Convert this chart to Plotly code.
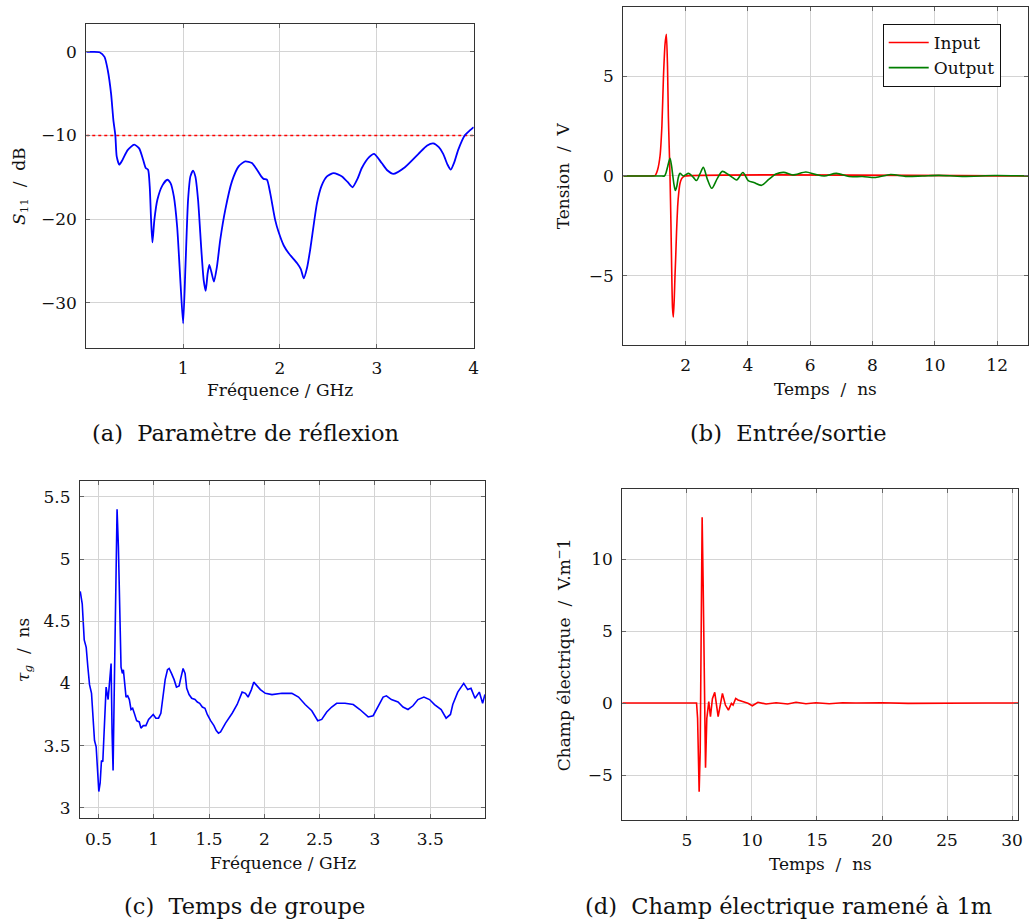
import plotly.graph_objects as go

# ---------------- (a) Paramètre de réflexion ----------------
freq_a = [0.0, 0.07, 0.137, 0.188, 0.222, 0.256, 0.28, 0.30, 0.314, 0.341,
          0.375, 0.427, 0.495, 0.546, 0.587, 0.614, 0.638, 0.655, 0.669, 0.683,
          0.703, 0.734, 0.785, 0.836, 0.87, 0.904, 0.938, 0.973, 1.0, 1.024,
          1.051, 1.075, 1.102, 1.126, 1.154, 1.188, 1.212, 1.233, 1.253, 1.27,
          1.291, 1.318, 1.349, 1.383, 1.435, 1.504, 1.573, 1.641, 1.71, 1.762,
          1.806, 1.83, 1.865, 1.899, 1.95, 1.984, 2.04, 2.09, 2.177, 2.215,
          2.245, 2.28, 2.314, 2.382, 2.43, 2.485, 2.554, 2.64, 2.70, 2.749,
          2.8, 2.845, 2.92, 2.972, 3.05, 3.11, 3.17, 3.29, 3.43, 3.52,
          3.582, 3.64, 3.685, 3.73, 3.763, 3.80, 3.839, 3.907, 3.96, 4.0]
s11_db = [0, 0, -0.05, -0.6, -2.2, -5.0, -8.2, -10, -12.5, -13.5,
          -12.9, -11.75, -11.1, -11.55, -12.9, -13.9, -14.1, -16.1, -20.1, -22.8,
          -20.1, -17.7, -16.0, -15.3, -15.7, -17.3, -20.9, -27.7, -32.5, -25.7,
          -17.7, -14.9, -14.2, -14.9, -17.7, -23.7, -27.3, -28.6, -26.5, -25.5,
          -26.3, -27.5, -25.7, -22.5, -18.9, -15.5, -13.7, -13.1, -13.3, -14.1,
          -14.9, -15.2, -15.3, -16.9, -20.1, -21.5, -23.2, -24.1, -25.3, -26.0,
          -27.1, -25.8, -23.5, -18.1, -16.0, -14.9, -14.5, -14.9, -15.6, -16.2,
          -15.2, -13.9, -12.6, -12.2, -13.3, -14.2, -14.6, -13.8, -12.2, -11.2,
          -10.95, -11.4, -12.2, -13.5, -14.1, -13.2, -11.75, -10.0, -9.4, -9.0]
thr_freq = [0.0, 4.0]
thr_db = [-10, -10]

# ---------------- (b) Entrée/sortie ----------------
t_in = [0, 0.9, 1.02, 1.1, 1.18, 1.24, 1.29, 1.34, 1.383, 1.42,
        1.447, 1.475, 1.5, 1.53, 1.553, 1.58, 1.606, 1.635, 1.66, 1.68,
        1.71, 1.745, 1.78, 1.82, 1.87, 1.926, 2.0, 13.0]
v_in = [0, 0, 0.02, 0.3, 1.0, 2.5, 4.97, 6.6, 7.1, 5.5,
        3.0, 1.4, 0, -2.4, -4.6, -6.6, -7.07, -6.2, -5.0, -4.2,
        -2.8, -1.54, -0.85, -0.38, -0.15, -0.05, 0, 0]
t_out = [0, 1.0, 1.2, 1.32, 1.37, 1.43, 1.5, 1.55, 1.59, 1.63,
         1.67, 1.72, 1.76, 1.82, 1.93, 2.1, 2.25, 2.35, 2.46, 2.57,
         2.70, 2.84, 3.02, 3.18, 3.37, 3.5, 3.64, 3.84, 4.01, 4.19,
         4.44, 4.67, 4.9, 5.15, 5.44, 5.86, 6.16, 6.45, 6.84, 7.25,
         7.68, 8.1, 8.58, 9.06, 9.6, 10.13, 10.88, 11.94, 13.0]
v_out = [0, 0, 0.0, 0.0, 0.15, 0.5, 0.89, 0.5, 0.0, -0.45,
         -0.73, -0.5, -0.12, 0.13, 0.0, 0.13, -0.07, -0.23, 0.1, 0.43,
         -0.17, -0.62, -0.12, 0.23, 0.07, -0.07, -0.2, 0.17, -0.23, -0.33,
         -0.47, -0.17, 0.1, 0.18, 0.05, 0.2, 0.08, 0.0, 0.13, -0.03,
         -0.03, -0.08, 0.07, -0.02, 0.0, 0.03, -0.02, 0.02, 0.0]

# ---------------- (c) Temps de groupe ----------------
freq_c = [0.335, 0.353, 0.371, 0.389, 0.404, 0.419, 0.437, 0.449, 0.464, 0.479,
          0.491, 0.503, 0.515, 0.527, 0.539, 0.551, 0.569, 0.587, 0.605, 0.614,
          0.623, 0.632, 0.644, 0.656, 0.668, 0.68, 0.692, 0.704, 0.716, 0.725,
          0.737, 0.749, 0.764, 0.779, 0.794, 0.809, 0.824, 0.845, 0.869, 0.884,
          0.905, 0.929, 0.953, 0.974, 0.995, 1.019, 1.043, 1.064, 1.079, 1.103,
          1.124, 1.139, 1.16, 1.184, 1.205, 1.229, 1.244, 1.265, 1.283, 1.298,
          1.319, 1.343, 1.373, 1.394, 1.415, 1.439, 1.463, 1.484, 1.514, 1.544,
          1.565, 1.585, 1.604, 1.649, 1.709, 1.754, 1.799, 1.829, 1.853, 1.883,
          1.904, 1.934, 1.964, 2.009, 2.069, 2.159, 2.249, 2.309, 2.369, 2.429,
          2.483, 2.519, 2.564, 2.609, 2.654, 2.729, 2.804, 2.864, 2.909, 2.939,
          2.984, 3.029, 3.074, 3.104, 3.149, 3.209, 3.254, 3.299, 3.344, 3.389,
          3.443, 3.494, 3.539, 3.599, 3.644, 3.683, 3.704, 3.749, 3.803, 3.839,
          3.869, 3.905, 3.944, 3.974, 3.995]
tau_g = [4.74, 4.64, 4.35, 4.29, 4.13, 3.99, 3.92, 3.76, 3.54, 3.49,
         3.30, 3.13, 3.20, 3.38, 3.37, 3.60, 3.97, 3.87, 4.11, 4.16,
         3.60, 3.30, 4.03, 4.96, 5.40, 5.10, 4.56, 4.13, 4.08, 4.11,
         4.0, 3.89, 3.90, 3.87, 3.79, 3.80, 3.76, 3.70, 3.69, 3.64,
         3.66, 3.66, 3.71, 3.73, 3.75, 3.72, 3.72, 3.76, 3.87, 4.03,
         4.11, 4.12, 4.08, 4.03, 3.97, 3.98, 4.04, 4.12, 4.08, 3.96,
         3.91, 3.88, 3.87, 3.85, 3.84, 3.81, 3.80, 3.75, 3.70, 3.66,
         3.62, 3.60, 3.61, 3.68, 3.76, 3.83, 3.93, 3.92, 3.89, 3.95,
         4.01, 3.98, 3.95, 3.92, 3.91, 3.92, 3.92, 3.89, 3.83, 3.78,
         3.70, 3.71, 3.77, 3.81, 3.84, 3.84, 3.83, 3.79, 3.75, 3.73,
         3.74, 3.81, 3.89, 3.90, 3.87, 3.85, 3.81, 3.79, 3.82, 3.87,
         3.89, 3.87, 3.83, 3.79, 3.72, 3.75, 3.83, 3.93, 4.0, 3.95,
         3.96, 3.88, 3.93, 3.84, 3.91]

# ---------------- (d) Champ électrique ramené à 1m ----------------
t_e = [0.03, 5.74, 5.82, 5.94, 6.02, 6.1, 6.17, 6.25, 6.35, 6.43,
       6.53, 6.68, 6.81, 6.96, 7.14, 7.40, 7.73, 7.96, 8.19, 8.42,
       8.55, 8.75, 8.93, 9.31, 9.69, 10.03, 10.46, 11.09, 11.86, 12.75,
       13.39, 14.15, 14.92, 15.94, 16.96, 18.0, 20.0, 22.0, 25.0, 28.0, 30.46]
e_field = [0, 0, -1.06, -6.16, -3.4, 5.9, 12.9, 8.2, -1.06, -4.5,
           -1.06, 0.1, -0.95, 0.3, 0.74, -0.95, 0.67, -0.14, -0.49, -0.02,
           -0.14, 0.32, 0.21, 0.09, -0.02, -0.19, 0.05, -0.07, 0.02, -0.07,
           0.05, -0.05, 0.02, -0.05, 0.02, 0, 0.02, -0.02, 0.01, 0, 0]

assert len(freq_a) == len(s11_db)
assert len(t_in) == len(v_in) and len(t_out) == len(v_out)
assert len(freq_c) == len(tau_g) and len(t_e) == len(e_field)

W, H = 1035, 924
FONT = "DejaVu Serif"
TICK = 17
TITLE = 17
CAP = 22.5


def px_x(p):
    return p / W


def px_y(p):
    return 1 - p / H


fig = go.Figure()

fig.add_trace(go.Scatter(x=thr_freq, y=thr_db, mode="lines", showlegend=False,
                         line=dict(color="#ff0000", width=1.4, dash="dot"),
                         xaxis="x", yaxis="y"))
fig.add_trace(go.Scatter(x=freq_a, y=s11_db, mode="lines", showlegend=False,
                         line=dict(color="#0000ff", width=1.8, shape="spline", smoothing=0.6),
                         xaxis="x", yaxis="y"))

fig.add_trace(go.Scatter(x=t_in, y=v_in, mode="lines", name="Input",
                         line=dict(color="#ff0000", width=1.6, shape="spline", smoothing=0.6),
                         xaxis="x2", yaxis="y2"))
fig.add_trace(go.Scatter(x=t_out, y=v_out, mode="lines", name="Output",
                         line=dict(color="#007f00", width=1.6, shape="spline", smoothing=0.8),
                         xaxis="x2", yaxis="y2"))

fig.add_trace(go.Scatter(x=freq_c, y=tau_g, mode="lines", showlegend=False,
                         line=dict(color="#0000ff", width=1.6),
                         xaxis="x3", yaxis="y3"))

fig.add_trace(go.Scatter(x=t_e, y=e_field, mode="lines", showlegend=False,
                         line=dict(color="#ff0000", width=1.6),
                         xaxis="x4", yaxis="y4"))

axis_common = dict(
    showline=True, linecolor="#333333", linewidth=1, mirror="ticks",
    ticks="inside", ticklen=4, tickwidth=1, tickcolor="#666666",
    showgrid=True, gridcolor="#d4d4d4", gridwidth=1, zeroline=False,
    tickfont=dict(family=FONT, size=TICK, color="#111111"),
    ticklabelstandoff=5,
)

# pixel boxes of each plot area: (left, right, top, bottom)
boxes = {
    1: (86.7, 476.0, 24.3, 347.7),
    2: (626.3, 1033.3, 6.7, 345.0),
    3: (80.3, 487.3, 480.7, 818.3),
    4: (625.3, 1023.0, 489.3, 819.7),
}

x_ranges = {1: [0, 4], 2: [0, 13], 3: [0.332, 3.995], 4: [0.03, 30.46]}
y_ranges = {1: [-35.4, 3.3], 2: [-8.47, 8.48], 3: [2.915, 5.63], 4: [-8.1, 14.84]}
x_ticks = {1: [1, 2, 3, 4], 2: [2, 4, 6, 8, 10, 12],
           3: [0.5, 1, 1.5, 2, 2.5, 3, 3.5], 4: [5, 10, 15, 20, 25, 30]}
y_ticks = {1: [0, -10, -20, -30], 2: [-5, 0, 5],
           3: [3, 3.5, 4, 4.5, 5, 5.5], 4: [-5, 0, 5, 10]}

layout_axes = {}
for i in range(1, 5):
    l, r, t, b = boxes[i]
    sx = "" if i == 1 else str(i)
    layout_axes["xaxis" + sx] = dict(
        axis_common, domain=[px_x(l), px_x(r)], range=x_ranges[i],
        tickvals=x_ticks[i], anchor="y" + sx)
    layout_axes["yaxis" + sx] = dict(
        axis_common, domain=[px_y(b), px_y(t)], range=y_ranges[i],
        tickvals=y_ticks[i], anchor="x" + sx)

annotations = []


def ann(text, x, y, size, angle=0):
    annotations.append(dict(text=text, x=px_x(x), y=px_y(y), xref="paper", yref="paper",
                            showarrow=False, textangle=angle, xanchor="center",
                            yanchor="middle",
                            font=dict(family=FONT, size=size, color="#111111")))


# axis titles
ann("<i>S</i><sub>11</sub>  /  dB", 20, 186, TITLE, -90)
ann("Fréquence / GHz", 281, 390, TITLE)
ann("Tension  /  V", 566, 176, TITLE, -90)
ann("Temps  /  ns", 830, 389, TITLE)
ann("<i>τ</i><sub><i>g</i></sub>  /  ns", 24, 650, TITLE, -90)
ann("Fréquence / GHz", 284, 863, TITLE)
ann("Champ électrique  /  V.m<sup>−</sup>1", 566, 655, TITLE, -90)
ann("Temps  /  ns", 824, 864, TITLE)

# captions
ann("(a)  Paramètre de réflexion", 247, 433, CAP)
ann("(b)  Entrée/sortie", 792, 433, CAP)
ann("(c)  Temps de groupe", 246, 906, CAP)
ann("(d)  Champ électrique ramené à 1m", 792, 906, CAP)

fig.update_layout(
    width=W, height=H,
    margin=dict(l=0, r=0, t=0, b=0),
    paper_bgcolor="white", plot_bgcolor="white",
    annotations=annotations,
    showlegend=True,
    legend=dict(x=px_x(887), y=px_y(24), xanchor="left", yanchor="top",
                bgcolor="white", bordercolor="#111111", borderwidth=1,
                font=dict(family=FONT, size=17, color="#111111"),
                itemwidth=40, tracegroupgap=0),
    **layout_axes,
)

fig.write_html("out.html",
               config={"displayModeBar": False},
               post_script="document.body.style.margin='0px';document.body.style.overflow='hidden';")
